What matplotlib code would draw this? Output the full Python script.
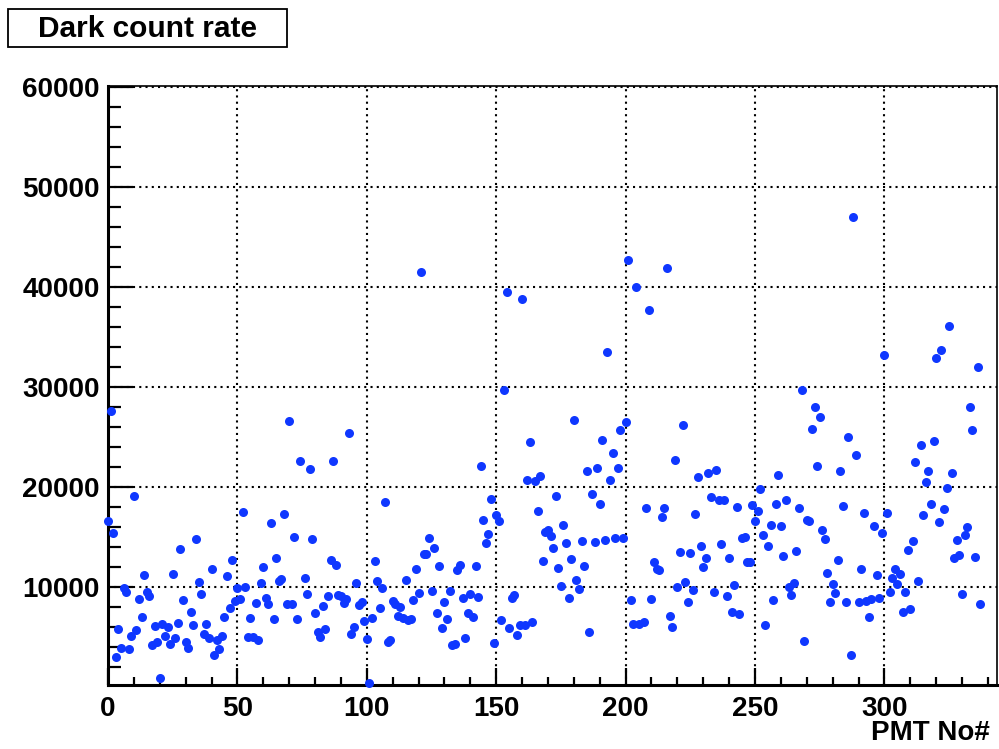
import numpy as np
import matplotlib
matplotlib.use("Agg")
import matplotlib.pyplot as plt
from matplotlib.patches import Rectangle
from matplotlib.ticker import MultipleLocator

# dark count rate per PMT (PMT 75 and 206 not visible)
missing = [75, 206]
pmt_no = [i for i in range(338) if i not in missing]
dark_rate = [
    16530, 27530, 15400, 3000, 5770, 3900, 9870, 9500, 3730, 5030,
    19100, 5670, 8730, 6970, 11200, 9500, 9070, 4170, 6030, 4500,
    830, 6230, 5030, 5930, 4230, 11230, 4830, 6330, 13770, 8670,
    4500, 3870, 7470, 6170, 14770, 10470, 9270, 5300, 6230, 4870,
    11730, 3170, 4700, 3800, 5070, 6930, 11100, 7830, 12670, 8600,
    9830, 8730, 17470, 10000, 5000, 6830, 4970, 8370, 4700, 10400,
    11970, 8870, 8270, 16330, 6730, 12870, 10530, 10800, 17270, 8270,
    26600, 8300, 14970, 6730, 22530,        10830, 9230, 21730, 14730,
    7400, 5470, 5000, 8070, 5800, 9030, 12670, 22530, 12170, 9130,
    9070, 8400, 8730, 25400, 5270, 6000, 10400, 8130, 8470, 6530,
    4800, 330, 6900, 12570, 10600, 7870, 9870, 18470, 4500, 4700,
    8570, 8300, 7030, 7970, 6870, 10670, 6630, 6800, 8630, 11730,
    9400, 41500, 13230, 13230, 14870, 9570, 13830, 7400, 12030, 5830,
    8500, 6800, 9600, 4170, 4230, 11630, 12200, 8900, 4870, 7400,
    9230, 7000, 12030, 8970, 22070, 16630, 14370, 15230, 18800, 4370,
    17200, 16570, 6700, 29630, 39450, 5870, 8850, 9130, 5130, 6130,
    38800, 6170, 20630, 24500, 6500, 20600, 17530, 21030, 12600, 15500,
    15650, 15100, 13880, 19070, 11830, 10100, 16170, 14330, 8830, 12730,
    26670, 10630, 9730, 14570, 12100, 21600, 5500, 19270, 14430, 21870,
    18230, 24670, 14670, 33500, 20630, 23400, 14870, 21900, 25700, 14830,
    26470, 42670, 8630, 6300, 39970, 6300,        6430, 17870, 37670,
    8730, 12470, 11730, 11630, 16970, 17900, 41900, 7070, 5970, 22630,
    10000, 13470, 26200, 10470, 8470, 13400, 9700, 17230, 21000, 14100,
    11930, 12830, 21400, 19000, 9470, 21630, 18670, 14270, 18670, 9100,
    12870, 7430, 10130, 17970, 7300, 14830, 15000, 12430, 12500, 18130,
    16530, 17530, 19800, 15130, 6170, 14070, 16130, 8630, 18300, 21200,
    16100, 13070, 18630, 10000, 9130, 10370, 13570, 17830, 29700, 4600,
    16630, 16530, 25770, 27930, 22100, 26970, 15670, 14770, 11330, 8470,
    10270, 9330, 12630, 21600, 18100, 8500, 25000, 3170, 46970, 23170,
    8500, 11770, 17400, 8600, 7000, 8730, 16030, 11130, 8870, 15330,
    33170, 17330, 9500, 10830, 11800, 10270, 11270, 7430, 9470, 13700,
    7800, 14600, 22470, 10600, 24130, 17170, 20430, 21570, 18300, 24600,
    32830, 16500, 33670, 17730, 19830, 36070, 21370, 12850, 14700, 13130,
    9250, 15200, 16000, 27930, 25670, 12970, 31930, 8230,
]

W, H = 999, 749
plt.rcParams['font.family'] = ['Liberation Sans', 'DejaVu Sans']
plt.rcParams['font.weight'] = 'bold'

fig = plt.figure(figsize=(W / 100, H / 100), dpi=100)
ax = fig.add_axes([108 / W, 1 - 685 / H, (997 - 108) / W, (685 - 86) / H])

ax.plot(pmt_no, dark_rate, 'o', color='#0f37ff', ms=6.5, mew=0,
        clip_on=False, zorder=3)

ax.set_xlim(0, 343.5)
ax.set_ylim(170, 60070)

ax.xaxis.set_major_locator(MultipleLocator(50))
ax.xaxis.set_minor_locator(MultipleLocator(10))
ax.yaxis.set_major_locator(MultipleLocator(10000))
ax.yaxis.set_minor_locator(MultipleLocator(2000))

ax.grid(True, which='major', color='black', linestyle=(0, (1, 2)), lw=1.5)
ax.set_axisbelow(True)

ax.tick_params(axis='both', which='both', direction='in', width=1.6,
               top=False, right=False, labelsize=20)
ax.tick_params(axis='y', which='major', length=18, pad=6)
ax.tick_params(axis='y', which='minor', length=9.5)
ax.tick_params(axis='x', which='major', length=12, pad=8)
ax.tick_params(axis='x', which='minor', length=6)
for lab in ax.get_xticklabels() + ax.get_yticklabels():
    lab.set_fontweight('bold')

for side in ['left', 'bottom']:
    ax.spines[side].set_linewidth(2.2)
for side in ['top', 'right']:
    ax.spines[side].set_linewidth(1.2)

fig.text(990 / W, 1 - 733 / H, 'PMT No#', ha='right', va='center',
         fontsize=20, fontweight='bold')

# title box
fig.patches.append(Rectangle((8 / W, 1 - 47 / H), (287 - 8) / W, (47 - 9) / H,
                             transform=fig.transFigure, fill=False,
                             edgecolor='black', lw=1.3))
fig.text(147 / W, 1 - 29 / H, 'Dark count rate', ha='center', va='center',
         fontsize=21.5, fontweight='bold')

fig.savefig('out.png', dpi=100)
